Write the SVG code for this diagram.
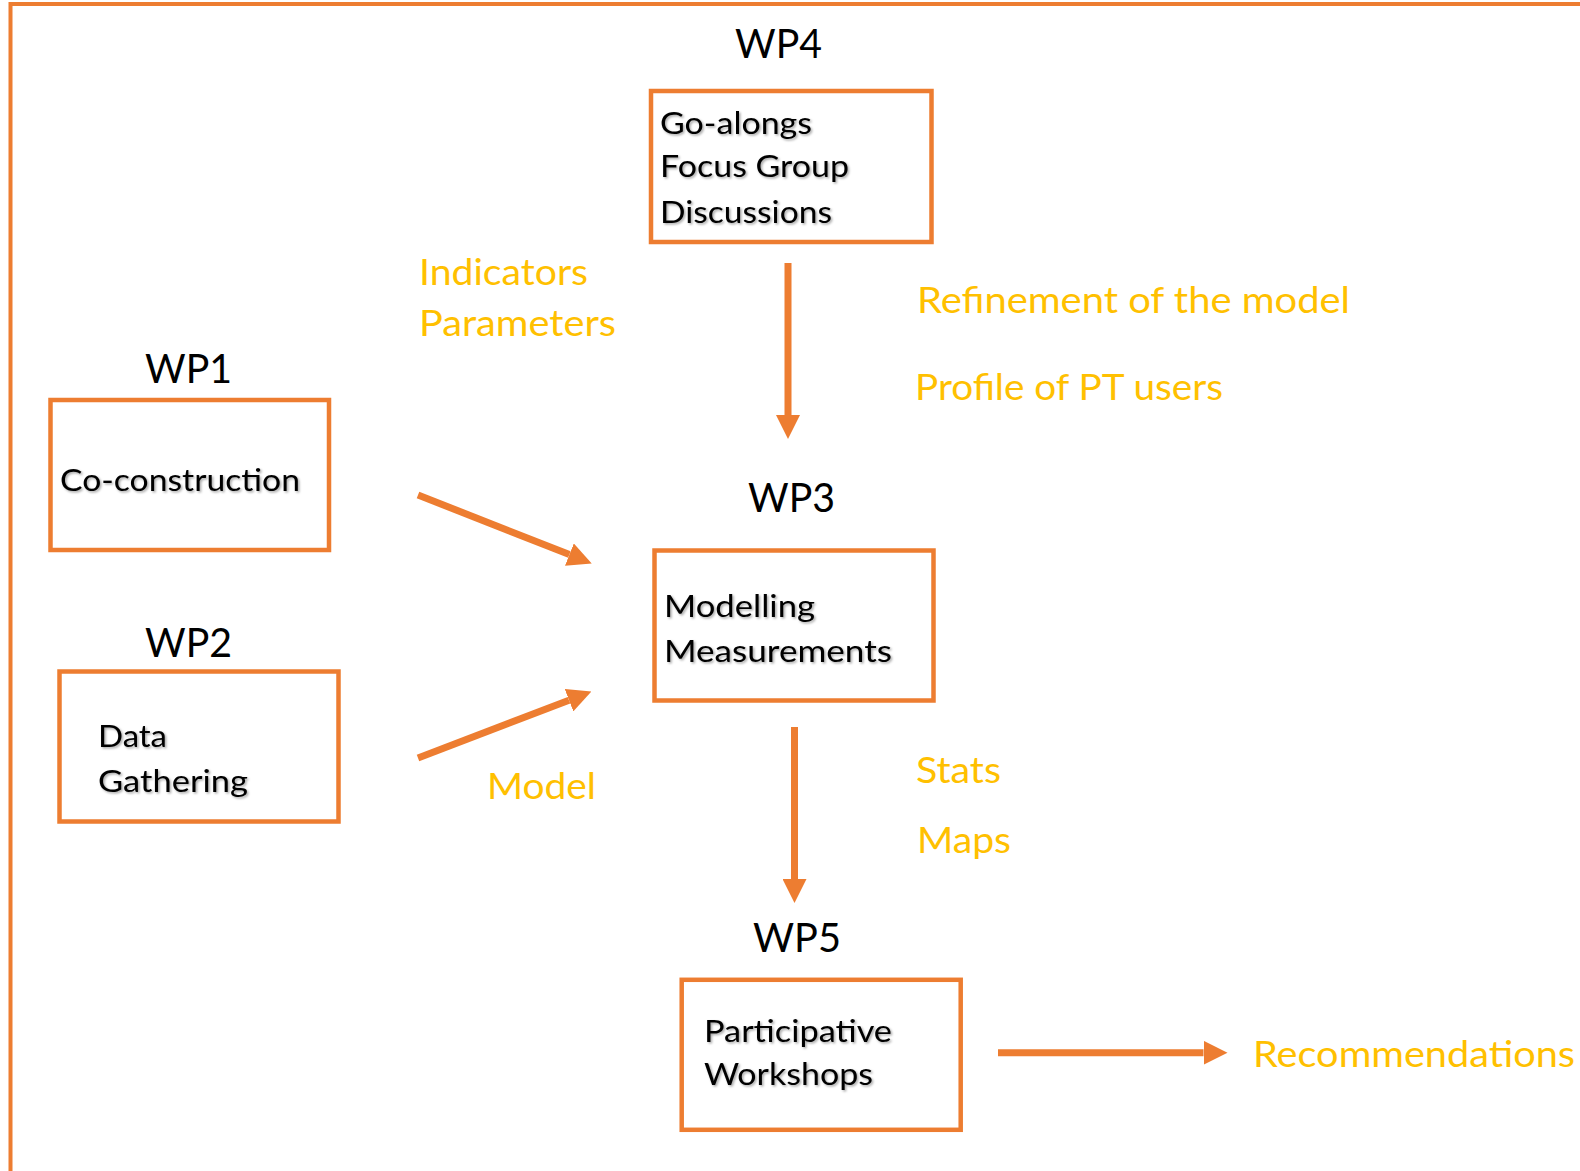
<svg xmlns="http://www.w3.org/2000/svg" width="1580" height="1171" viewBox="0 0 1580 1171">
  <style>
    .frame { fill: none; stroke: #ED7D31; stroke-width: 4; }
    .box { fill: #FFFFFF; stroke: #ED7D31; stroke-width: 4.5; }
    .wp { font-family: Lato, "Open Sans", "Liberation Sans", sans-serif; font-size: 41px; fill: #000000; }
    .body { font-family: Lato, "Open Sans", "Liberation Sans", sans-serif; font-size: 31px; fill: #000000; }
    .lbl { font-family: Lato, "Open Sans", "Liberation Sans", sans-serif; font-size: 37px; fill: #FFC000; }
    .conn { stroke: #ED7D31; stroke-width: 7; fill: none; marker-end: url(#head); }
  </style>
  <defs>
    <marker id="head" viewBox="0 0 24 24" refX="0" refY="12" markerWidth="24" markerHeight="24" markerUnits="userSpaceOnUse" orient="auto">
      <path d="M0,0 L24,12 L0,24 Z" fill="#ED7D31"/>
    </marker>
    <filter id="shadow" x="-10%" y="-20%" width="120%" height="150%">
      <feDropShadow dx="1.5" dy="1.5" stdDeviation="1.2" flood-color="#000000" flood-opacity="0.35"/>
    </filter>
  </defs>
  <rect x="0" y="0" width="1580" height="1171" fill="#FFFFFF"/>
  <rect class="frame" x="10.5" y="4" width="1620" height="1220"/>

  <g id="connectors">
    <line class="conn" x1="788" y1="263" x2="788" y2="415"/>
    <line class="conn" x1="418" y1="495" x2="569.4" y2="554.6"/>
    <line class="conn" x1="418" y1="758" x2="569" y2="700.2"/>
    <line class="conn" x1="794.5" y1="727" x2="794.5" y2="879"/>
    <line class="conn" x1="998" y1="1052.7" x2="1203.5" y2="1052.7"/>
  </g>

  <g id="wp4">
    <text class="wp" x="735" y="58" textLength="87" lengthAdjust="spacingAndGlyphs">WP4</text>
    <rect class="box" x="651" y="91" width="280.5" height="151"/>
    <g filter="url(#shadow)">
      <text class="body" x="660" y="134" textLength="152" lengthAdjust="spacingAndGlyphs">Go-alongs</text>
      <text class="body" x="660" y="177" textLength="189" lengthAdjust="spacingAndGlyphs">Focus Group</text>
      <text class="body" x="660" y="223" textLength="172" lengthAdjust="spacingAndGlyphs">Discussions</text>
    </g>
  </g>

  <g id="wp1">
    <text class="wp" x="145" y="383" textLength="87" lengthAdjust="spacingAndGlyphs">WP1</text>
    <rect class="box" x="50.5" y="400" width="278.5" height="150"/>
    <g filter="url(#shadow)">
      <text class="body" x="60" y="491" textLength="240" lengthAdjust="spacingAndGlyphs">Co-construction</text>
    </g>
  </g>

  <g id="wp2">
    <text class="wp" x="145" y="657" textLength="87" lengthAdjust="spacingAndGlyphs">WP2</text>
    <rect class="box" x="59.5" y="671.5" width="279" height="150"/>
    <g filter="url(#shadow)">
      <text class="body" x="98" y="747" textLength="69" lengthAdjust="spacingAndGlyphs">Data</text>
      <text class="body" x="98" y="792" textLength="150" lengthAdjust="spacingAndGlyphs">Gathering</text>
    </g>
  </g>

  <g id="wp3">
    <text class="wp" x="748" y="512" textLength="87" lengthAdjust="spacingAndGlyphs">WP3</text>
    <rect class="box" x="654.5" y="550.5" width="279" height="150"/>
    <g filter="url(#shadow)">
      <text class="body" x="664" y="617" textLength="151" lengthAdjust="spacingAndGlyphs">Modelling</text>
      <text class="body" x="664" y="662" textLength="228" lengthAdjust="spacingAndGlyphs">Measurements</text>
    </g>
  </g>

  <g id="wp5">
    <text class="wp" x="753" y="952" textLength="88" lengthAdjust="spacingAndGlyphs">WP5</text>
    <rect class="box" x="681.7" y="979.8" width="279" height="150"/>
    <g filter="url(#shadow)">
      <text class="body" x="704" y="1042" textLength="188" lengthAdjust="spacingAndGlyphs">Participative</text>
      <text class="body" x="704" y="1085" textLength="169" lengthAdjust="spacingAndGlyphs">Workshops</text>
    </g>
  </g>

  <g id="labels">
    <text class="lbl" x="419" y="285" textLength="169" lengthAdjust="spacingAndGlyphs">Indicators</text>
    <text class="lbl" x="419" y="336" textLength="197" lengthAdjust="spacingAndGlyphs">Parameters</text>
    <text class="lbl" x="917" y="312.5" textLength="433" lengthAdjust="spacingAndGlyphs">Refinement of the model</text>
    <text class="lbl" x="915" y="400" textLength="308" lengthAdjust="spacingAndGlyphs">Profile of PT users</text>
    <text class="lbl" x="487" y="799" textLength="109" lengthAdjust="spacingAndGlyphs">Model</text>
    <text class="lbl" x="916" y="783" textLength="85" lengthAdjust="spacingAndGlyphs">Stats</text>
    <text class="lbl" x="917" y="853" textLength="94" lengthAdjust="spacingAndGlyphs">Maps</text>
    <text class="lbl" x="1253" y="1067" textLength="322" lengthAdjust="spacingAndGlyphs">Recommendations</text>
  </g>
</svg>
